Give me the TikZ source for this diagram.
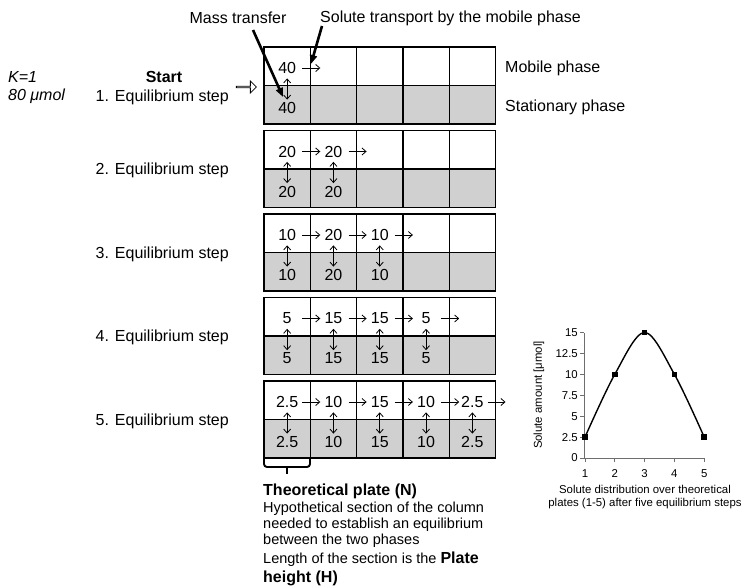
\documentclass[tikz,border=0pt]{standalone}
\usepackage{fontspec}
\setmainfont{Liberation Sans}
\usetikzlibrary{arrows.meta,shapes.arrows}
\definecolor{statgray}{RGB}{208,208,208}
\definecolor{axisgray}{RGB}{110,110,110}
\begin{document}
\begin{tikzpicture}[x=1pt,y=-1pt,
  big/.style={font=\fontsize{16}{19}\selectfont, inner sep=0pt},
  small/.style={font=\fontsize{14.5}{16}\selectfont, inner sep=0pt},
  chart/.style={font=\fontsize{11.4}{13}\selectfont, inner sep=0pt},
  num/.style={big},
  gridline/.style={line width=1.2pt, black},
  flow/.style={-{Straight Barb[length=4pt,width=7pt]}, line width=0.8pt},
  xfer/.style={{Straight Barb[length=4pt,width=7pt]}-{Straight Barb[length=4pt,width=7pt]}, line width=0.8pt, shorten <=4.5pt, shorten >=2.5pt},
  thickarrow/.style={-{Triangle[length=9pt,width=7pt]}, line width=2.6pt},
  axisline/.style={line width=1pt, axisgray},
  curveline/.style={line width=1.4pt, black},
  sqmark/.style={fill=black, minimum size=5.5pt, inner sep=0pt, draw=none},
  bracestyle/.style={line width=1.9pt, black}
]
\useasboundingbox (0,0) rectangle (744,586);
\def\gx{264}
\def\colw{46.3}

% top labels
\node[big] (lmt) at (238,18) {Mass transfer};
\node[big, anchor=west] (lst) at (320,18) {Solute transport by the mobile phase};
\coordinate (mtstart) at (253,30);
\coordinate (mtend) at (283,97);
\coordinate (ststart) at (322,26);
\coordinate (stend) at (311,64);

% left labels
\node[big, font=\fontsize{16}{19}\selectfont\itshape, anchor=west] (kval) at (8,77) {K=1};
\node[big, font=\fontsize{16}{19}\selectfont\itshape, anchor=west] (amt) at (8,96) {80 μmol};
\node[big, font=\fontsize{16}{19}\selectfont\bfseries] (start) at (164,77) {Start};
\node[single arrow, draw, line width=0.8pt, fill=white, minimum height=20pt, minimum width=12pt,
      single arrow head extend=3pt, inner sep=0pt] (inarrow) at (246,87) {};

\node[big, anchor=east] (lab1) at (229,97) {1. Equilibrium step};
\node[big, anchor=west] (mob) at (505,68) {Mobile phase};
\node[big, anchor=west] (stat) at (505,107) {Stationary phase};

% grids
\foreach \r/\T/\vals in {1/47/{40},2/130.5/{20,20},3/214/{10,20,10},4/297.5/{5,15,15,5},5/381/{2.5,10,15,10,2.5}}{
  \fill[statgray] (\gx,\T+38.5) rectangle (\gx+5*\colw,\T+77);
  \draw[gridline] (\gx,\T) rectangle (\gx+5*\colw,\T+77);
  \draw[gridline] (\gx,\T+38.5) -- (\gx+5*\colw,\T+38.5);
  \foreach \k in {1,2,3,4}
    \draw[gridline] (\gx+\k*\colw,\T) -- (\gx+\k*\colw,\T+77);
  \foreach \v [count=\c] in \vals {
    \node[num] (m-\r-\c) at ({\gx+(\c-0.5)*\colw},\T+21) {\v};
    \node[num] (s-\r-\c) at ({\gx+(\c-0.5)*\colw},\T+61) {\v};
    \draw[xfer] (m-\r-\c.south) -- (s-\r-\c.north);
    \coordinate (fa-\r-\c) at ({\gx+\c*\colw-8},\T+21);
    \coordinate (fb-\r-\c) at ({\gx+\c*\colw+10},\T+21);
    \draw[flow] (fa-\r-\c) -- (fb-\r-\c);
  }
}
\foreach \r/\T in {2/130.5,3/214,4/297.5,5/381}
  \node[big, anchor=east] (lab\r) at (229,\T+40) {\r. Equilibrium step};

% thick pointer arrows
\draw[thickarrow] (mtstart) -- (mtend);
\draw[thickarrow] (ststart) -- (stend);

% brace
\draw[bracestyle, rounded corners=3pt] (264,459) -- (264,467) -- (310,467) -- (310,459);
\draw[bracestyle] (287,467) -- (287,474);

% bottom text
\node[big, font=\fontsize{16}{19}\selectfont\bfseries, anchor=base west] (tp) at (263,495) {Theoretical plate (N)};
\node[small, anchor=base west] (t1) at (263,512) {Hypothetical section of the column};
\node[small, anchor=base west] (t2) at (263,528) {needed to establish an equilibrium};
\node[small, anchor=base west] (t3) at (263,544) {between the two phases};
\node[small, anchor=base west] (t4) at (263,563) {Length of the section is the {\fontsize{16}{19}\selectfont\bfseries Plate}};
\node[big, font=\fontsize{16}{19}\selectfont\bfseries, anchor=base west] (t5) at (263,582) {height (H)};

% chart
\draw[axisline] (584,333) -- (584,458) -- (705,458);
\foreach \v in {0,2.5,5,7.5,10,12.5,15}{
  \draw[axisline] (580,{458-\v*8.37}) -- (584,{458-\v*8.37});
  \node[chart, anchor=east] (yt\v) at (578,{458-\v*8.37}) {\v};
}
\foreach \i in {1,2,3,4,5}{
  \draw[axisline] ({585+(\i-1)*29.8},458) -- ({585+(\i-1)*29.8},462);
  \node[chart] (xt\i) at ({585+(\i-1)*29.8},474) {\i};
}
\foreach \i/\v in {1/2.5,2/10,3/15,4/10,5/2.5}
  \coordinate (p\i) at ({585+(\i-1)*29.8},{458-\v*8.37});
\draw[curveline] plot[smooth, tension=0.55] coordinates {(p1) (p2) (p3) (p4) (p5)};
\foreach \i in {1,2,3,4,5}
  \node[sqmark] (mk\i) at (p\i) {};
\node[chart, rotate=90] (ylab) at (539,395) {Solute amount [μmol]};
\node[chart, align=center] (cap) at (645,497) {Solute distribution over theoretical\\plates (1-5) after five equilibrium steps};
\end{tikzpicture}
\end{document}
